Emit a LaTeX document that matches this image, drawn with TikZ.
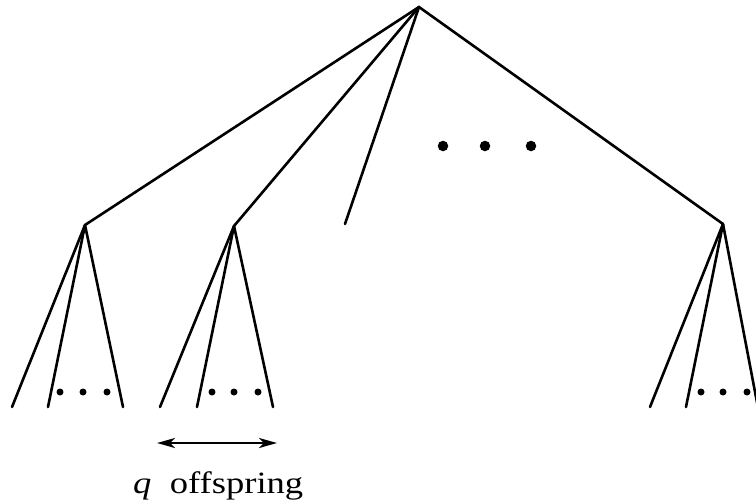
\documentclass[tikz,border=0pt]{standalone}
\usepackage{fontspec}
\setmainfont{Liberation Serif}
\usetikzlibrary{arrows.meta}
\begin{document}
\begin{tikzpicture}[x=1pt,y=-1pt,
  edge/.style={line width=2.6pt,line cap=round},
  sdot/.style={circle,fill=black,inner sep=0pt,minimum size=7pt},
  bdot/.style={circle,fill=black,inner sep=0pt,minimum size=10.5pt},
  >={Stealth[length=18pt,width=10pt,inset=5pt]}]
\useasboundingbox (0,0) rectangle (756,501);
% internal nodes
\coordinate (r) at (419,7);
\coordinate (a) at (85,225);
\coordinate (b) at (234,226);
\coordinate (c) at (345,224);
\coordinate (d) at (723,224);
% leaves
\coordinate (a1) at (12,407);
\coordinate (a2) at (48,407);
\coordinate (a3) at (123,407);
\coordinate (b1) at (160,407);
\coordinate (b2) at (197,407);
\coordinate (b3) at (273,407);
\coordinate (d1) at (650,407);
\coordinate (d2) at (686,407);
\coordinate (d3) at (760,418);
\draw[edge] (a) -- (r) -- (d);
\draw[edge] (r) -- (b);
\draw[edge] (r) -- (c);
\foreach \p in {a,b,d}{
  \draw[edge] (\p) -- (\p1);
  \draw[edge] (\p) -- (\p2);
  \draw[edge] (\p) -- (\p3);
}
% dots
\node[sdot] (ad1) at (60,392) {};
\node[sdot] (ad2) at (83,392) {};
\node[sdot] (ad3) at (107,392) {};
\node[sdot] (bd1) at (212,392) {};
\node[sdot] (bd2) at (234,392) {};
\node[sdot] (bd3) at (258,392) {};
\node[sdot] (dd1) at (701,392) {};
\node[sdot] (dd2) at (723,392) {};
\node[sdot] (dd3) at (747,392) {};
\node[bdot] (t1) at (443,146) {};
\node[bdot] (t2) at (485,146) {};
\node[bdot] (t3) at (531,146) {};
% arrow
\coordinate (arL) at (157,443);
\coordinate (arR) at (277,443);
\draw[line width=2.6pt,<->] (arL) -- (arR);
\node[anchor=base west,inner sep=0pt,font=\fontsize{31}{31}\selectfont,xscale=1.18] (lbl) at (133,493) {\textit{q}\hspace{0.5em}offspring};
\end{tikzpicture}
\end{document}
